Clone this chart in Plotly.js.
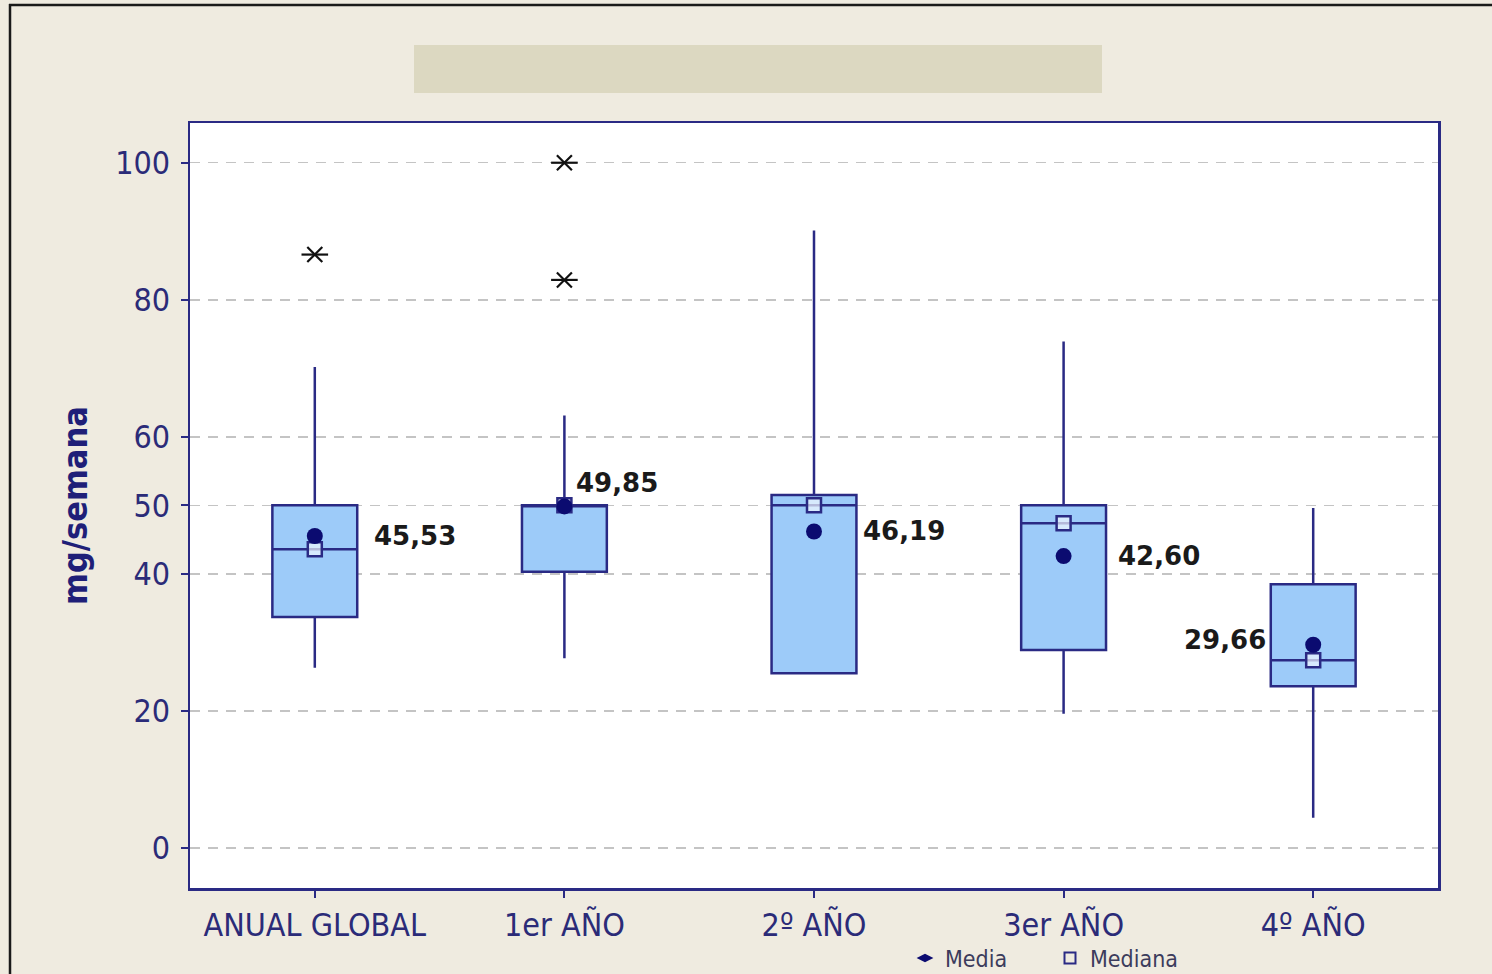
<!DOCTYPE html>
<html>
<head>
<meta charset="utf-8">
<script src="https://cdn.plot.ly/plotly-3.0.1.min.js"></script>
<style>
html,body{margin:0;padding:0;background:#efebe0;}
#chart{width:1492px;height:974px;}
</style>
</head>
<body>
<div id="chart"></div>
<script>
// ---- data ----
var categories = ["ANUAL GLOBAL", "1er AÑO", "2º AÑO", "3er AÑO", "4º AÑO"];
var q1Values = [33.7, 40.3, 25.5, 28.9, 23.6];
var medianValues = [43.6, 50.0, 50.0, 47.4, 27.4];
var q3Values = [50.0, 50.0, 51.5, 50.0, 38.5];
var lowerWhisker = [26.3, 27.7, 25.5, 19.6, 4.4];
var upperWhisker = [70.2, 63.1, 90.1, 73.9, 49.6];
var meanValues = [45.53, 49.85, 46.19, 42.60, 29.66];
var outlierCategories = ["ANUAL GLOBAL", "1er AÑO", "1er AÑO"];
var outlierValues = [86.6, 100.0, 82.9];
var yTickValues = [0, 20, 40, 50, 60, 80, 100];

// ---- styling ----
var NAVY = "#2a2a84";
var TEXT_NAVY = "#2b2b78";
var FONT = "DejaVu Sans Condensed, DejaVu Sans, sans-serif";

var traces = [];

traces.push({
  type: "box",
  x: categories,
  q1: q1Values,
  median: medianValues,
  q3: q3Values,
  lowerfence: lowerWhisker,
  upperfence: upperWhisker,
  boxpoints: false,
  width: 0.34,
  whiskerwidth: 0,
  fillcolor: "#9dcbf9",
  line: {color: NAVY, width: 2.5},
  showlegend: false,
  hoverinfo: "skip"
});

// outliers: X + horizontal bar = 6-arm asterisk
traces.push({
  type: "scatter", mode: "markers", x: outlierCategories, y: outlierValues,
  marker: {symbol: "x-thin-open", size: 15, color: "#111111", line: {color: "#111111", width: 2.2}},
  showlegend: false, hoverinfo: "skip"
});
traces.push({
  type: "scatter", mode: "markers", x: outlierCategories, y: outlierValues,
  marker: {symbol: "line-ew-open", size: 19, color: "#111111", line: {color: "#111111", width: 2.2}},
  showlegend: false, hoverinfo: "skip"
});

// median squares
traces.push({
  type: "scatter", mode: "markers", x: categories, y: medianValues,
  marker: {symbol: "square", size: 14, color: "rgba(240,246,255,0.7)", line: {color: NAVY, width: 2.5}},
  showlegend: false, hoverinfo: "skip"
});
// mean dots
traces.push({
  type: "scatter", mode: "markers", x: categories, y: meanValues,
  marker: {symbol: "circle", size: 16, color: "#0b0b70", line: {width: 0}},
  showlegend: false, hoverinfo: "skip"
});

// legend entries
traces.push({
  type: "scatter", mode: "markers", x: [null], y: [null], name: "Media",
  marker: {symbol: "diamond-wide", size: 12, color: "#0b0b70"}, showlegend: true
});
traces.push({
  type: "scatter", mode: "markers", x: [null], y: [null], name: "Mediana",
  marker: {symbol: "square-open", size: 11, color: NAVY, line: {width: 2}}, showlegend: true
});

// mean labels
var labelShifts = [[57, 0, "left"], [10, 23, "left"], [47, 0, "left"], [52, 0, "left"], [-45, 5, "right"]];
var annotations = categories.map(function (c, i) {
  return {
    x: c, y: meanValues[i], xref: "x", yref: "y",
    text: meanValues[i].toFixed(2).replace(".", ","),
    showarrow: false,
    xanchor: labelShifts[i][2], yanchor: "middle",
    xshift: labelShifts[i][0], yshift: labelShifts[i][1],
    font: {family: "DejaVu Sans, sans-serif", size: 26, color: "#1a1a1a", weight: "bold"}
  };
});

// paper coordinate helpers (plot area: left 190, right 1438, top 123, bottom 888)
function px(x) { return (x - 190) / 1248; }
function py(y) { return (888 - y) / 765; }

var shapes = [
  {type: "rect", xref: "paper", yref: "paper", x0: px(414), x1: px(1102), y0: py(93), y1: py(45),
   fillcolor: "#dcd8c1", line: {width: 0}, layer: "below"},
  {type: "line", xref: "paper", yref: "paper", x0: px(9), x1: px(1492), y0: py(5), y1: py(5),
   line: {color: "#1a1a1a", width: 2.5}},
  {type: "line", xref: "paper", yref: "paper", x0: px(10), x1: px(10), y0: py(4), y1: py(974),
   line: {color: "#1a1a1a", width: 2.5}}
];

var layout = {
  width: 1492, height: 974,
  margin: {l: 190, r: 54, t: 123, b: 86, pad: 0, autoexpand: false},
  paper_bgcolor: "#efebe0",
  plot_bgcolor: "#ffffff",
  showlegend: true,
  legend: {
    orientation: "h", x: px(905), y: py(958), xanchor: "left", yanchor: "middle",
    bgcolor: "rgba(0,0,0,0)", font: {family: FONT, size: 23, color: "#3c3c5c"},
    itemwidth: 30, tracegroupgap: 0, entrywidth: 100, entrywidthmode: "pixels"
  },
  xaxis: {
    type: "category", range: [-0.5, 4.5], automargin: false,
    showline: true, linecolor: NAVY, linewidth: 2.5, mirror: true,
    ticks: "outside", ticklen: 7, tickwidth: 2, tickcolor: NAVY,
    tickfont: {family: FONT, size: 32, color: TEXT_NAVY},
    ticklabelstandoff: 0,
    showgrid: false, zeroline: false, fixedrange: true
  },
  yaxis: {
    range: [-5.84, 105.8], automargin: false,
    tickvals: yTickValues,
    showline: true, linecolor: NAVY, linewidth: 2.5, mirror: true,
    ticks: "outside", ticklen: 7, tickwidth: 2, tickcolor: NAVY,
    tickfont: {family: FONT, size: 32, color: TEXT_NAVY},
    ticklabelstandoff: 4,
    showgrid: true, gridcolor: "#c4c4c4", gridwidth: 1.5, griddash: "10px,8px",
    zeroline: false, fixedrange: true,
    title: {text: "mg/semana", standoff: 18, font: {family: FONT, size: 34, color: "#1f1f78", weight: "bold"}}
  },
  annotations: annotations,
  shapes: shapes
};

Plotly.newPlot("chart", traces, layout, {displayModeBar: false, staticPlot: true});
</script>
</body>
</html>
